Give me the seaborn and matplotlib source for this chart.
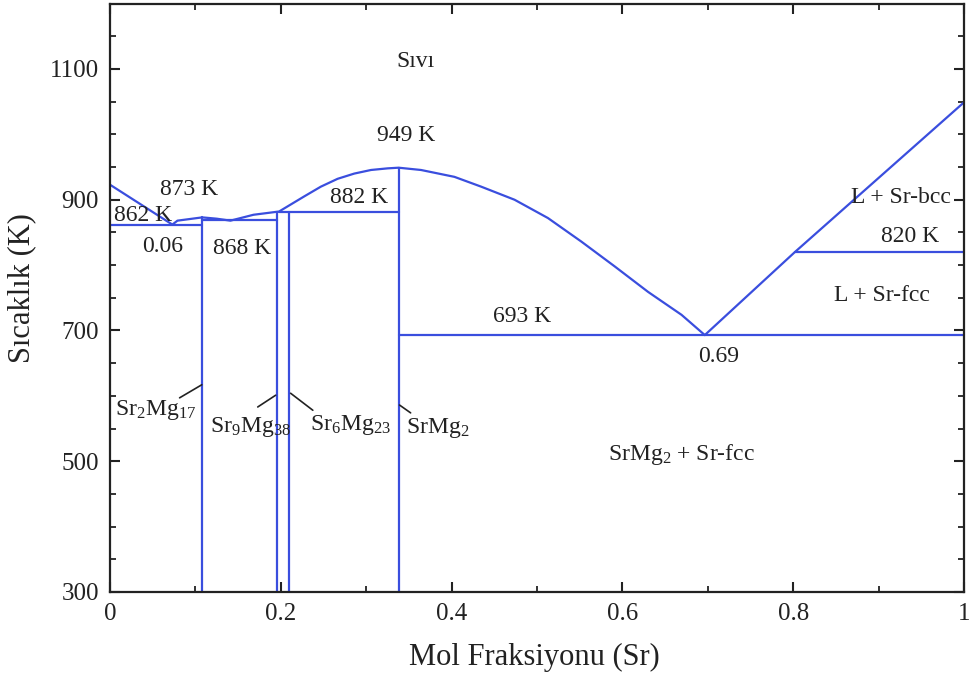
import matplotlib
matplotlib.use("Agg")
import matplotlib.pyplot as plt
import seaborn as sns
from matplotlib.ticker import MultipleLocator

# ---- data ----
liq_x = [0, 0.073, 0.079, 0.108, 0.125, 0.141, 0.168, 0.198,
         0.2273, 0.2469, 0.2665, 0.286, 0.3056, 0.3252, 0.338, 0.3642,
         0.4033, 0.4346, 0.4737, 0.5128, 0.5519, 0.591, 0.6301, 0.6692, 0.6965]
liq_y = [923, 862, 868, 873, 871, 868, 877, 882,
         905, 920, 932, 940, 945.5, 948, 949, 945.5,
         935, 920, 900, 872, 836, 798, 759, 724, 693]
liq2_x = [0.6965, 0.802, 1.0]
liq2_y = [693, 820, 1049]

horiz_y = [862, 869, 882, 693, 820]
horiz_x0 = [0, 0.108, 0.198, 0.338, 0.802]
horiz_x1 = [0.108, 0.195, 0.338, 1.0, 1.0]

comp_names = ["Sr2Mg17", "Sr9Mg38", "Sr6Mg23", "SrMg2"]
comp_x = [0.108, 0.195, 0.21, 0.338]
comp_top = [873, 882, 882, 949]

comp_labels = [r"$\mathregular{Sr_2Mg_{17}}$", r"$\mathregular{Sr_9Mg_{38}}$",
               r"$\mathregular{Sr_6Mg_{23}}$", r"$\mathregular{SrMg_2}$"]
comp_label_pos = [(0.053, 578), (0.164, 553), (0.282, 555), (0.384, 551)]
leader_start = [(0.0815, 597), (0.173, 583), (0.2375, 578), (0.352, 574)]
leader_end = [(0.1075, 617), (0.194, 601), (0.2115, 604), (0.339, 586)]

annot_text = ["Sıvı", "949 K", "873 K", "862 K", "0.06", "868 K", "882 K",
              "693 K", "0.69", "L + Sr-bcc", "820 K", "L + Sr-fcc",
              r"$\mathregular{SrMg_2}$ + Sr-fcc"]
annot_x = [0.358, 0.347, 0.092, 0.039, 0.0616, 0.155, 0.292,
           0.4826, 0.7127, 0.926, 0.937, 0.904, 0.669]
annot_y = [1111, 999, 915, 876, 828, 826, 903,
           721, 660, 903, 843, 754, 510]

x_ticks = [0, 0.2, 0.4, 0.6, 0.8, 1.0]
x_tick_labels = ["0", "0.2", "0.4", "0.6", "0.8", "1"]
y_ticks = [300, 500, 700, 900, 1100]

# ---- styling ----
sns.set_theme(style="ticks")
plt.rcParams["font.family"] = ["Liberation Serif", "DejaVu Serif"]
plt.rcParams["mathtext.fontset"] = "custom"
plt.rcParams["mathtext.rm"] = "Liberation Serif"

BLUE = "#3a4ede"
LW = 1.6
INK = "#222222"

fig = plt.figure(figsize=(9.7, 6.78), dpi=100)
ax = fig.add_axes([110 / 970, 1 - 592 / 678, 854 / 970, 588.4 / 678])

sns.lineplot(x=liq_x, y=liq_y, sort=False, estimator=None, color=BLUE, lw=LW, ax=ax)
sns.lineplot(x=liq2_x, y=liq2_y, sort=False, estimator=None, color=BLUE, lw=LW, ax=ax)

for y, x0, x1 in zip(horiz_y, horiz_x0, horiz_x1):
    sns.lineplot(x=[x0, x1], y=[y, y], sort=False, estimator=None, color=BLUE, lw=LW, ax=ax)

for x, top in zip(comp_x, comp_top):
    sns.lineplot(x=[x, x], y=[300, top], sort=False, estimator=None, color=BLUE, lw=LW, ax=ax)

for lab, pos, s, e in zip(comp_labels, comp_label_pos, leader_start, leader_end):
    ax.text(pos[0], pos[1], lab, ha="center", va="center", fontsize=17, color=INK)
    ax.plot([s[0], e[0]], [s[1], e[1]], color=INK, lw=1.2)

for t, x, y in zip(annot_text, annot_x, annot_y):
    ax.text(x, y, t, ha="center", va="center", fontsize=17, color=INK)

ax.set_xlim(0, 1)
ax.set_ylim(300, 1200)
ax.set_xticks(x_ticks)
ax.set_xticklabels(x_tick_labels)
ax.xaxis.set_minor_locator(MultipleLocator(0.1))
ax.set_yticks(y_ticks)
ax.set_yticklabels([str(v) for v in y_ticks])
ax.yaxis.set_minor_locator(MultipleLocator(50))

ax.tick_params(which="both", direction="in", top=True, right=True, color=INK,
               labelcolor=INK, labelsize=18, pad=8)
ax.tick_params(which="major", length=7, width=1.5)
ax.tick_params(which="minor", length=4, width=1.3)
for sp in ax.spines.values():
    sp.set_linewidth(1.6)
    sp.set_color(INK)

ax.set_xlabel("Mol Fraksiyonu (Sr)", fontsize=22, color=INK)
ax.set_ylabel("Sıcaklık (K)", fontsize=22, color=INK)
ax.xaxis.set_label_coords(0.497, -0.086)
ax.yaxis.set_label_coords(-0.086, 0.517)

fig.savefig("out.png", dpi=100)
